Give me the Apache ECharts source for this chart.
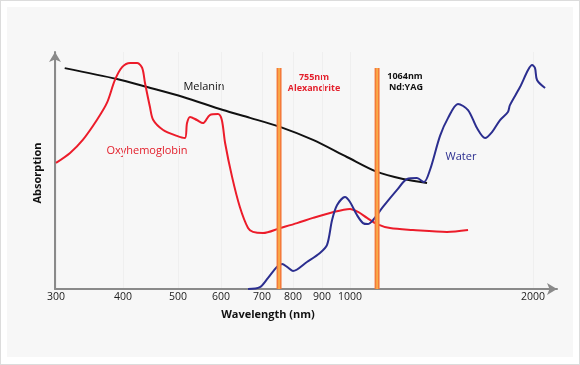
<!DOCTYPE html>
<html>
<head>
<meta charset="utf-8">
<script src="https://cdn.jsdelivr.net/npm/echarts@6/dist/echarts.min.js"></script>
<style>
  html, body { margin: 0; padding: 0; background: #ffffff; }
  #wrap { position: relative; width: 580px; height: 365px; box-sizing: border-box; border: 1px solid #dcdcdc; background: #ffffff; }
  #panel { position: absolute; left: 6px; top: 6px; width: 566px; height: 350px; background: #f7f7f7; }
  #chart { position: absolute; left: -1px; top: -1px; width: 580px; height: 365px; }
</style>
</head>
<body>
<div id="wrap"><div id="panel"></div><div id="chart"></div></div>
<script>
// ---- Axis ticks (wavelength, nm) and their slots on the hand-drawn, roughly logarithmic axis
const tickNm = [300, 400, 500, 600, 700, 800, 900, 1000, 2000];
const tickSlot = [0, 67, 122, 165, 206, 237, 266, 294, 477];

// ---- Melanin absorption (relative)
const melaninNm  = [313, 391, 444, 512, 605, 671, 758, 869, 989, 1148, 1290, 1421];
const melaninAbs = [93.2, 88.6, 85.2, 81.0, 75.5, 72.2, 68.4, 62.9, 55.7, 49.4, 46.4, 44.7];

// ---- Oxyhemoglobin absorption (relative)
const oxyNm  = [300, 321, 340, 361, 376, 388, 399, 413, 426, 435, 440, 449, 455, 473, 498, 516, 521, 528, 544, 558,
                574, 593, 602, 610, 627, 646, 666, 678, 703, 758, 814, 869, 929, 1000, 1044, 1093, 1148, 1219, 1344, 1530, 1645];
const oxyAbs = [53.2, 57.4, 62.9, 71.3, 78.5, 88.2, 93.7, 95.4, 95.4, 93.2, 86.9, 76.8, 71.3, 67.1, 64.6, 63.7, 70.0, 72.6, 71.3, 70.0,
                73.4, 73.8, 71.3, 61.6, 47.3, 34.6, 25.7, 24.1, 23.6, 25.7, 27.8, 30.0, 32.1, 33.8, 32.5, 30.0, 27.4, 25.7, 24.9, 24.1, 24.9];

// ---- Water absorption (relative)
const waterNm  = [666, 695, 719, 748, 765, 781, 800, 848, 893, 918, 936, 954, 982, 1000, 1038, 1071, 1098, 1126, 1180, 1257,
                  1312, 1366, 1404, 1437, 1492, 1536, 1590, 1645, 1694, 1738, 1776, 1820, 1863, 1874, 1929, 1973, 1995, 2011, 2022, 2066];
const waterAbs = [0, 0.8, 4.6, 9.3, 10.5, 9.3, 7.6, 11.4, 15.2, 18.6, 29.1, 35.4, 38.8, 36.7, 31.2, 27.8, 27.4, 29.1, 34.6, 41.8,
                  46.4, 46.8, 45.1, 50.2, 64.6, 72.2, 78.1, 75.5, 67.9, 63.7, 66.2, 71.3, 74.7, 77.6, 85.2, 92.4, 94.5, 93.2, 88.2, 84.8];

// ---- Laser lines (position) and their labels
const laserNm = [755, 1148];
const laserTop = 93.2;
const laserLabels = [['755nm', 'Alexandrite'], ['1064nm', 'Nd:YAG']];

// map a wavelength onto the drawn axis (piecewise between the labelled ticks)
function toSlot(nm) {
  let i = 0;
  while (i < tickNm.length - 2 && nm > tickNm[i + 1]) i++;
  const f = (nm - tickNm[i]) / (tickNm[i + 1] - tickNm[i]);
  return tickSlot[i] + f * (tickSlot[i + 1] - tickSlot[i]);
}
const pairs = (xs, ys) => xs.map((x, i) => [toSlot(x), ys[i]]);
const slotLabel = {};
tickSlot.forEach((s, i) => { slotLabel[s] = String(tickNm[i]); });

const FONT = '"Open Sans", "DejaVu Sans", sans-serif';
const chart = echarts.init(document.getElementById('chart'), null, { renderer: 'canvas' });

const axisLine = { show: true, onZero: false, symbol: ['none', 'arrow'], symbolSize: [9, 10],
                   lineStyle: { color: '#8a8a8a', width: 2 } };

const laserSeries = [];
laserNm.forEach(nm => {
  laserSeries.push({ type: 'line', data: [[toSlot(nm), 0], [toSlot(nm), laserTop]], symbol: 'none', silent: true,
    z: 5, lineStyle: { color: '#f47a3a', width: 5 } });
  laserSeries.push({ type: 'line', data: [[toSlot(nm), 0], [toSlot(nm), laserTop]], symbol: 'none', silent: true,
    z: 6, lineStyle: { color: '#fbb24a', width: 1.6 } });
});

chart.setOption({
  animation: false,
  backgroundColor: 'transparent',
  grid: { left: 55, right: 23, top: 52, bottom: 76 },
  xAxis: {
    type: 'value', min: -1, max: 501,
    axisLine: axisLine,
    axisTick: { show: false, customValues: tickSlot },
    axisLabel: { customValues: tickSlot, formatter: v => slotLabel[v] || '', color: '#222', fontSize: 10.5,
                 fontFamily: FONT, margin: 3 },
    splitLine: { show: true, lineStyle: { color: '#efefef', width: 1 } }
  },
  yAxis: {
    type: 'value', min: 0, max: 100,
    axisLine: axisLine,
    axisTick: { show: false },
    axisLabel: { show: false },
    splitLine: { show: false }
  },
  series: [
    { name: 'Melanin', type: 'line', data: pairs(melaninNm, melaninAbs), smooth: 0.3, symbol: 'none', z: 3,
      lineStyle: { color: '#111111', width: 2 } },
    { name: 'Oxyhemoglobin', type: 'line', data: pairs(oxyNm, oxyAbs), smooth: 0.3, symbol: 'none', z: 3,
      lineStyle: { color: '#ec1c2a', width: 2 } },
    { name: 'Water', type: 'line', data: pairs(waterNm, waterAbs), smooth: 0.3, symbol: 'none', z: 3,
      lineStyle: { color: '#2b2e8f', width: 2 } }
  ].concat(laserSeries),
  graphic: { elements: [
    { type: 'text', x: 204, y: 87, style: { text: 'Melanin', align: 'center', verticalAlign: 'middle',
        fill: '#111', font: '11px ' + FONT } },
    { type: 'text', x: 147, y: 151, style: { text: 'Oxyhemoglobin', align: 'center', verticalAlign: 'middle',
        fill: '#e3202c', font: '11px ' + FONT } },
    { type: 'text', x: 461, y: 157, style: { text: 'Water', align: 'center', verticalAlign: 'middle',
        fill: '#2b2e8f', font: '11px ' + FONT } },
    { type: 'text', x: 314, y: 77, style: { text: laserLabels[0][0], align: 'center', verticalAlign: 'middle',
        fill: '#e3202c', font: 'bold 9px ' + FONT } },
    { type: 'text', x: 314, y: 88, style: { text: laserLabels[0][1], align: 'center', verticalAlign: 'middle',
        fill: '#e3202c', font: 'bold 9px ' + FONT } },
    { type: 'text', x: 405, y: 76, style: { text: laserLabels[1][0], align: 'center', verticalAlign: 'middle',
        fill: '#111', font: 'bold 9px ' + FONT } },
    { type: 'text', x: 406, y: 87, style: { text: laserLabels[1][1], align: 'center', verticalAlign: 'middle',
        fill: '#111', font: 'bold 9px ' + FONT } },
    { type: 'text', x: 268, y: 315, style: { text: 'Wavelength (nm)', align: 'center', verticalAlign: 'middle',
        fill: '#111', font: 'bold 11px ' + FONT } },
    { type: 'text', x: 38, y: 173, rotation: Math.PI / 2, style: { text: 'Absorption', align: 'center',
        verticalAlign: 'middle', fill: '#111', font: 'bold 11px ' + FONT } }
  ] }
});
</script>
</body>
</html>
